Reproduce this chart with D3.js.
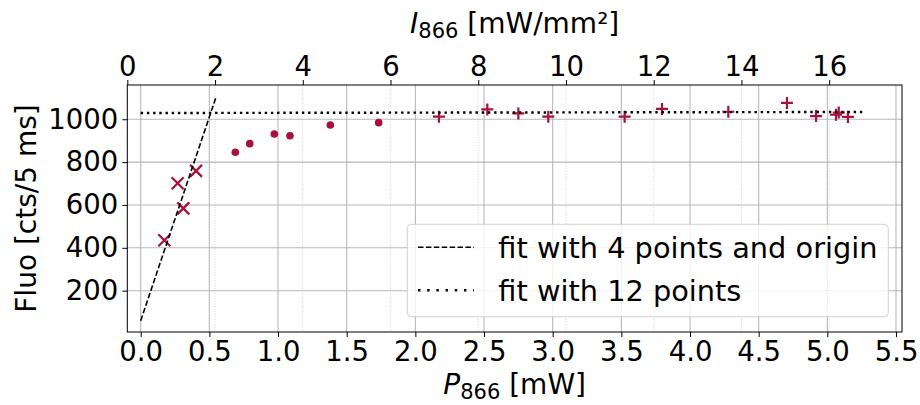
<!DOCTYPE html>
<html><head><meta charset="utf-8">
<script src="https://cdn.jsdelivr.net/npm/d3@7"></script>
<style>
html,body{margin:0;padding:0;background:#fff;}
svg text{font-family:"DejaVu Sans",sans-serif;fill:#000;}
</style></head>
<body><svg id="c" width="920" height="405"></svg>
<script>
// ---------- data ----------
const crossX = [0.172, 0.310, 0.269, 0.403];
const crossY = [435, 584, 701, 759];
const circleX = [0.689, 0.794, 0.973, 1.087, 1.381, 1.733];
const circleY = [846, 886, 931, 923, 973, 984];
const plusX = [2.172, 2.524, 2.750, 2.968, 3.524, 3.796, 4.279, 4.706, 4.918, 5.063, 5.083, 5.150];
const plusY = [1012, 1046, 1027, 1012, 1012, 1048, 1035, 1076, 1015, 1021, 1031, 1011];
const fit4X = [0, 0.548];
const fit4Y = [60, 1102];
const fit12X = [0, 5.28];
const fit12Y = [1029, 1034];
const xTicks = [0,0.5,1,1.5,2,2.5,3,3.5,4,4.5,5,5.5];
const xTopTicks = [0,2,4,6,8,10,12,14,16];
const yTicks = [200,400,600,800,1000];
const legendLabels = ["fit with 4 points and origin", "fit with 12 points"];

// ---------- layout ----------
const L = 127.3, R = 902, T = 85, B = 332;
const red = "#a8113a";
const FS = 27.5;

const svg = d3.select("#c");
const x = d3.scaleLinear().domain([-0.0976, 5.5437]).range([L, R]);
const xTop = d3.scaleLinear().domain([0, 17.66]).range([L, R]);
const y = d3.scaleLinear().domain([7.2, 1159.8]).range([B, T]);

// grid
const g = svg.append("g");
g.selectAll(".gx").data(xTicks).join("line")
  .attr("x1", d => x(d)).attr("x2", d => x(d)).attr("y1", T).attr("y2", B)
  .attr("stroke", "#b8b8b8").attr("stroke-width", 1.1);
g.selectAll(".gy").data(yTicks).join("line")
  .attr("x1", L).attr("x2", R).attr("y1", d => y(d)).attr("y2", d => y(d))
  .attr("stroke", "#b8b8b8").attr("stroke-width", 1.1);
g.selectAll(".gt").data(xTopTicks).join("line")
  .attr("x1", d => xTop(d)).attr("x2", d => xTop(d)).attr("y1", T).attr("y2", B)
  .attr("stroke", "#c8c8c8").attr("stroke-width", 0.8).attr("stroke-dasharray", "1,1.6");

// markers
const m = svg.append("g");
const cx = crossX.map((d,i)=>[d, crossY[i]]);
const cc = circleX.map((d,i)=>[d, circleY[i]]);
const cp = plusX.map((d,i)=>[d, plusY[i]]);
const s = 6;
m.selectAll(".cr").data(cx).join("path")
  .attr("d", d => { const X = x(d[0]), Y = y(d[1]);
    return `M${X-s},${Y-s}L${X+s},${Y+s}M${X-s},${Y+s}L${X+s},${Y-s}`; })
  .attr("stroke", red).attr("stroke-width", 2.2).attr("fill", "none");
m.selectAll(".ci").data(cc).join("circle")
  .attr("cx", d => x(d[0])).attr("cy", d => y(d[1])).attr("r", 3.8).attr("fill", red);
const p = 6;
m.selectAll(".pl").data(cp).join("path")
  .attr("d", d => { const X = x(d[0]), Y = y(d[1]);
    return `M${X-p},${Y}L${X+p},${Y}M${X},${Y-p}L${X},${Y+p}`; })
  .attr("stroke", red).attr("stroke-width", 2.2).attr("fill", "none");

// fit lines
const line = d3.line().x(d => x(d[0])).y(d => y(d[1]));
svg.append("path").datum(fit4X.map((d,i)=>[d, fit4Y[i]])).attr("d", line)
  .attr("stroke", "#000").attr("stroke-width", 1.6).attr("fill", "none")
  .attr("stroke-dasharray", "5.5,2.4");
svg.append("path").datum(fit12X.map((d,i)=>[d, fit12Y[i]])).attr("d", line)
  .attr("stroke", "#000").attr("stroke-width", 2.4).attr("fill", "none")
  .attr("stroke-dasharray", "2.4,3.8");

// axes
const fmt1 = d3.format(".1f");
const axB = svg.append("g").attr("transform", `translate(0,${B})`)
  .call(d3.axisBottom(x).tickValues(xTicks).tickFormat(fmt1).tickSize(5).tickPadding(4));
const axT = svg.append("g").attr("transform", `translate(0,${T})`)
  .call(d3.axisTop(xTop).tickValues(xTopTicks).tickFormat(d3.format("d")).tickSize(5).tickPadding(4));
const axL = svg.append("g").attr("transform", `translate(${L},0)`)
  .call(d3.axisLeft(y).tickValues(yTicks).tickFormat(d3.format("d")).tickSize(5).tickPadding(4));
[axB, axT, axL].forEach(a => {
  a.select(".domain").remove();
  a.selectAll("line").attr("stroke", "#000").attr("stroke-width", 1);
  a.selectAll("text").attr("font-size", FS).attr("font-family", "DejaVu Sans");
});
// frame
svg.append("rect").attr("x", L).attr("y", T).attr("width", R-L).attr("height", B-T)
  .attr("fill", "none").attr("stroke", "#000").attr("stroke-width", 1);

// axis labels
const xl = svg.append("text").attr("x", (L+R)/2).attr("y", 394).attr("text-anchor", "middle").attr("font-size", 28);
xl.append("tspan").attr("font-style", "italic").text("P");
xl.append("tspan").attr("font-size", 21).attr("dy", 5).text("866");
xl.append("tspan").attr("dy", -5).text(" [mW]");

const tl = svg.append("text").attr("x", (L+R)/2).attr("y", 33).attr("text-anchor", "middle").attr("font-size", 28);
tl.append("tspan").attr("font-style", "italic").text("I");
tl.append("tspan").attr("font-size", 21).attr("dy", 5).text("866");
tl.append("tspan").attr("dy", -5).text(" [mW/mm²]");

svg.append("text").attr("transform", `translate(36,${(T+B)/2}) rotate(-90)`)
  .attr("text-anchor", "middle").attr("font-size", 28).text("Fluo [cts/5 ms]");

// legend
const lg = svg.append("g");
lg.append("rect").attr("x", 407.3).attr("y", 224.3).attr("width", 481).attr("height", 92.4)
  .attr("rx", 4).attr("fill", "#fff").attr("fill-opacity", 0.8)
  .attr("stroke", "#d0d0d0").attr("stroke-width", 1);
const rows = [247.3, 290.3];
lg.append("line").attr("x1", 418).attr("x2", 474).attr("y1", rows[0]).attr("y2", rows[0])
  .attr("stroke", "#000").attr("stroke-width", 1.6).attr("stroke-dasharray", "5.5,2.4");
lg.append("line").attr("x1", 418).attr("x2", 474).attr("y1", rows[1]).attr("y2", rows[1])
  .attr("stroke", "#000").attr("stroke-width", 2.4).attr("stroke-dasharray", "2.4,6.8");
lg.selectAll(".lt").data(legendLabels).join("text")
  .attr("x", 498.3).attr("y", (d,i) => rows[i] + 11).attr("font-size", 28.8).text(d => d);
</script></body></html>
